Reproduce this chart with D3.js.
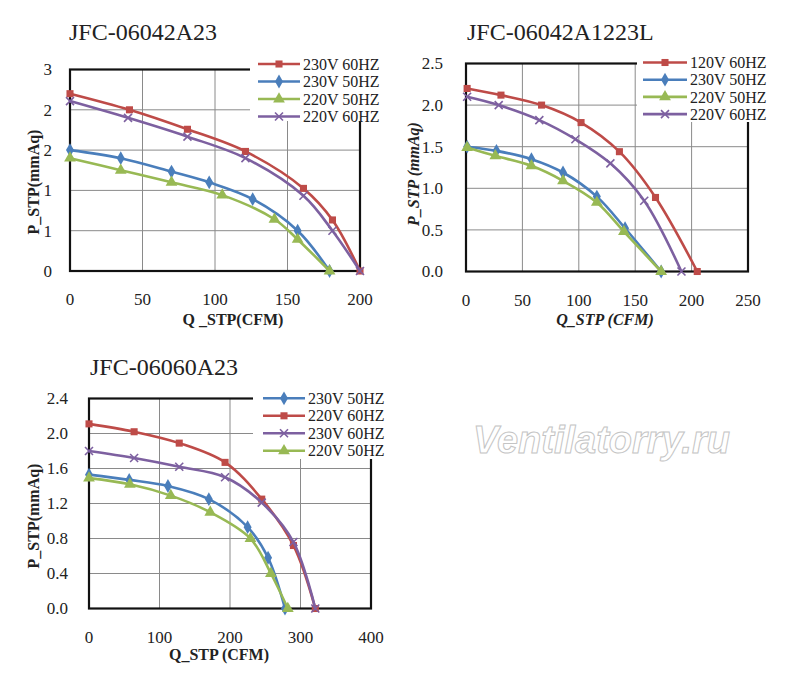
<!DOCTYPE html>
<html>
<head>
<meta charset="utf-8">
<script src="https://cdn.jsdelivr.net/npm/d3@7"></script>
<style>
  body { margin: 0; background: #fff; }
  svg { display: block; }
  text { font-family: "Liberation Serif", "Times New Roman", serif; fill: #222; }
</style>
</head>
<body>
<svg id="chart" width="800" height="682"></svg>
<script>
// ---- data ----
// JFC-06042A23
const a23Labels = ["230V 60HZ", "230V 50HZ", "220V 50HZ", "220V 60HZ"];
const a23Flow = [
  [0, 41, 81, 121, 161, 181, 200],
  [0, 35, 70, 96, 126, 157, 179],
  [0, 35, 70, 105, 141, 157, 179],
  [0, 40, 81, 121, 161, 181, 200]
];
const a23Press = [
  [2.64, 2.40, 2.11, 1.78, 1.23, 0.76, 0],
  [1.80, 1.68, 1.48, 1.32, 1.07, 0.60, 0],
  [1.68, 1.50, 1.32, 1.13, 0.77, 0.47, 0],
  [2.53, 2.28, 2.00, 1.68, 1.12, 0.60, 0]
];
const a23Ticks = [0, 0.6, 1.2, 1.8, 2.4, 3.0];

// JFC-06042A1223L
const a1223Labels = ["120V 60HZ", "230V 50HZ", "220V 50HZ", "220V 60HZ"];
const a1223Flow = [
  [1, 31, 67, 102, 136, 168, 205],
  [1, 27, 58, 86, 116, 141, 173],
  [1, 26, 58, 86, 116, 140, 173],
  [1, 29, 65, 97, 128, 158, 191]
];
const a1223Press = [
  [2.20, 2.12, 2.00, 1.79, 1.44, 0.89, 0],
  [1.50, 1.45, 1.35, 1.19, 0.90, 0.52, 0],
  [1.49, 1.39, 1.27, 1.09, 0.83, 0.48, 0],
  [2.10, 2.00, 1.82, 1.59, 1.30, 0.85, 0]
];
const a1223Ticks = [0, 0.5, 1.0, 1.5, 2.0, 2.5];

// JFC-06060A23
const b23Labels = ["230V 50HZ", "220V 60HZ", "230V 60HZ", "220V 50HZ"];
const b23Flow = [
  [0, 57, 112, 170, 225, 254, 278],
  [0, 64, 128, 193, 245, 290, 321],
  [0, 64, 128, 193, 245, 290, 321],
  [0, 58, 116, 172, 229, 258, 282]
];
const b23Press = [
  [1.53, 1.47, 1.40, 1.25, 0.93, 0.58, 0],
  [2.11, 2.02, 1.89, 1.67, 1.25, 0.72, 0],
  [1.80, 1.72, 1.62, 1.50, 1.21, 0.76, 0],
  [1.49, 1.42, 1.29, 1.10, 0.80, 0.40, 0]
];
const b23Ticks = [0, 0.4, 0.8, 1.2, 1.6, 2.0, 2.4];

// series styles (colour + marker)
const RED = "#be4b48", BLUE = "#4a7ebb", GREEN = "#98b954", PURPLE = "#7d60a0";
function styleFor(idx, chartId) {
  if (chartId === "b23") return [[BLUE, "diamond"], [RED, "square"], [PURPLE, "x"], [GREEN, "triangle"]][idx];
  return [[RED, "square"], [BLUE, "diamond"], [GREEN, "triangle"], [PURPLE, "x"]][idx];
}

const svg = d3.select("#chart");

function drawMarker(g, type, color, x, y) {
  if (type === "x") {
    const s = 4;
    g.append("path")
      .attr("d", `M${x - s},${y - s}L${x + s},${y + s}M${x - s},${y + s}L${x + s},${y - s}`)
      .attr("stroke", color).attr("stroke-width", 1.6).attr("fill", "none");
    return;
  }
  let sym, size;
  if (type === "square") { sym = d3.symbolSquare; size = 50; }
  else if (type === "diamond") { sym = d3.symbolDiamond; size = 55; }
  else { sym = d3.symbolTriangle; size = 60; }
  g.append("path")
    .attr("d", d3.symbol().type(sym).size(size)())
    .attr("transform", `translate(${x},${y})`)
    .attr("fill", color);
}

function drawChart(cfg) {
  const x = d3.scaleLinear().domain(cfg.xDomain).range([cfg.l, cfg.r]);
  const y = d3.scaleLinear().domain(cfg.yDomain).range([cfg.b, cfg.t]);
  const g = svg.append("g");

  // gridlines
  const xt = d3.range(cfg.xDomain[0], cfg.xDomain[1] + 1e-9, cfg.xStep);
  g.append("g").selectAll("line").data(xt).join("line")
    .attr("x1", d => x(d)).attr("x2", d => x(d))
    .attr("y1", cfg.t).attr("y2", cfg.b)
    .attr("stroke", "#8a8a8a").attr("stroke-width", 1);
  g.append("g").selectAll("line").data(cfg.yTicks).join("line")
    .attr("x1", cfg.l).attr("x2", cfg.r)
    .attr("y1", d => y(d)).attr("y2", d => y(d))
    .attr("stroke", "#8a8a8a").attr("stroke-width", 1);

  // frame
  g.append("rect")
    .attr("x", cfg.l).attr("y", cfg.t)
    .attr("width", cfg.r - cfg.l).attr("height", cfg.b - cfg.t)
    .attr("fill", "none").attr("stroke", "#111").attr("stroke-width", 2.2);

  // tick labels
  g.append("g").selectAll("text").data(xt).join("text")
    .attr("x", d => x(d)).attr("y", cfg.b + 34)
    .attr("text-anchor", "middle").attr("font-size", 17)
    .text(d => d);
  g.append("g").selectAll("text").data(cfg.yTicks).join("text")
    .attr("x", cfg.l - cfg.yLabelGap).attr("y", d => y(d))
    .attr("dy", "0.35em")
    .attr("text-anchor", "end").attr("font-size", 17)
    .text(d => d3.format(cfg.yFmt)(d));

  // axis titles
  g.append("text")
    .attr("x", cfg.xTitleX).attr("y", cfg.xTitleY)
    .attr("text-anchor", "middle").attr("font-size", 16).attr("font-weight", "bold")
    .attr("font-style", cfg.italic ? "italic" : "normal")
    .text(cfg.xTitle);
  g.append("text")
    .attr("transform", `translate(${cfg.yTitleX},${cfg.yTitleY}) rotate(-90)`)
    .attr("text-anchor", "middle").attr("dy", "0.35em")
    .attr("font-size", 16).attr("font-weight", "bold")
    .attr("font-style", cfg.italic ? "italic" : "normal")
    .text(cfg.yTitle);

  // chart title
  g.append("text")
    .attr("x", cfg.titleX).attr("y", cfg.titleY)
    .attr("font-size", 24)
    .text(cfg.title);

  // series
  const line = d3.line().curve(d3.curveCatmullRom.alpha(0.5))
    .x(d => x(d[0])).y(d => y(d[1]));
  cfg.labels.forEach((lab, i) => {
    const [color, mk] = styleFor(i, cfg.id);
    const pts = cfg.flow[i].map((q, j) => [q, cfg.press[i][j]]);
    g.append("path").datum(pts)
      .attr("d", line)
      .attr("fill", "none").attr("stroke", color).attr("stroke-width", 2.6);
    pts.forEach(p => drawMarker(g, mk, color, x(p[0]), y(p[1])));
  });

  // legend (white box overlapping the plot frame)
  const lg = cfg.legend;
  g.append("rect")
    .attr("x", lg.boxX).attr("y", lg.boxY)
    .attr("width", lg.boxW).attr("height", lg.boxH)
    .attr("fill", "#fff");
  cfg.labels.forEach((lab, i) => {
    const [color, mk] = styleFor(i, cfg.id);
    const ry = lg.y0 + i * lg.dy;
    g.append("line")
      .attr("x1", lg.x0).attr("x2", lg.x1)
      .attr("y1", ry).attr("y2", ry)
      .attr("stroke", color).attr("stroke-width", 2.6);
    drawMarker(g, mk, color, (lg.x0 + lg.x1) / 2, ry);
    g.append("text")
      .attr("x", lg.x1 + 3).attr("y", ry).attr("dy", "0.35em")
      .attr("font-size", 16)
      .text(lab);
  });
}

drawChart({
  id: "a23", title: "JFC-06042A23", titleX: 69, titleY: 40,
  l: 70, r: 360, t: 69.5, b: 271,
  xDomain: [0, 200], xStep: 50, yDomain: [0, 3], yTicks: a23Ticks, yFmt: ".0f",
  yLabelGap: 18,
  labels: a23Labels, flow: a23Flow, press: a23Press,
  xTitle: "Q _STP(CFM)", xTitleX: 233, xTitleY: 325,
  yTitle: "P_STP(mmAq)", yTitleX: 33, yTitleY: 182, italic: false,
  legend: { boxX: 250, boxY: 52, boxW: 150, boxH: 69, x0: 258, x1: 300, y0: 64, dy: 17.5 }
});

drawChart({
  id: "a1223", title: "JFC-06042A1223L", titleX: 467, titleY: 40,
  l: 466, r: 748, t: 63.5, b: 271.5,
  xDomain: [0, 250], xStep: 50, yDomain: [0, 2.5], yTicks: a1223Ticks, yFmt: ".1f",
  yLabelGap: 23,
  labels: a1223Labels, flow: a1223Flow, press: a1223Press,
  xTitle: "Q_STP (CFM)", xTitleX: 605, xTitleY: 325,
  yTitle: "P_STP (mmAq)", yTitleX: 413, yTitleY: 174, italic: true,
  legend: { boxX: 637, boxY: 50, boxW: 163, boxH: 72, x0: 643, x1: 687, y0: 62.5, dy: 17.2 }
});

drawChart({
  id: "b23", title: "JFC-06060A23", titleX: 90, titleY: 375,
  l: 89, r: 371, t: 398.5, b: 608.5,
  xDomain: [0, 400], xStep: 100, yDomain: [0, 2.4], yTicks: b23Ticks, yFmt: ".1f",
  yLabelGap: 21,
  labels: b23Labels, flow: b23Flow, press: b23Press,
  xTitle: "Q_STP (CFM)", xTitleX: 219, xTitleY: 660,
  yTitle: "P_STP(mmAq)", yTitleX: 33, yTitleY: 516, italic: false,
  legend: { boxX: 253, boxY: 386, boxW: 147, boxH: 73, x0: 263, x1: 305, y0: 398.3, dy: 17.5 }
});

// watermark: white letters with a thin grey outline
svg.append("text")
  .attr("x", 473).attr("y", 453)
  .style("font-family", "'Liberation Sans', Arial, sans-serif")
  .style("fill", "#fff").style("stroke", "#c4c4c4").style("stroke-width", "1px")
  .attr("font-size", 38).attr("font-weight", "bold").attr("font-style", "italic")
  .text("Ventilatorry.ru");
</script>
</body>
</html>
